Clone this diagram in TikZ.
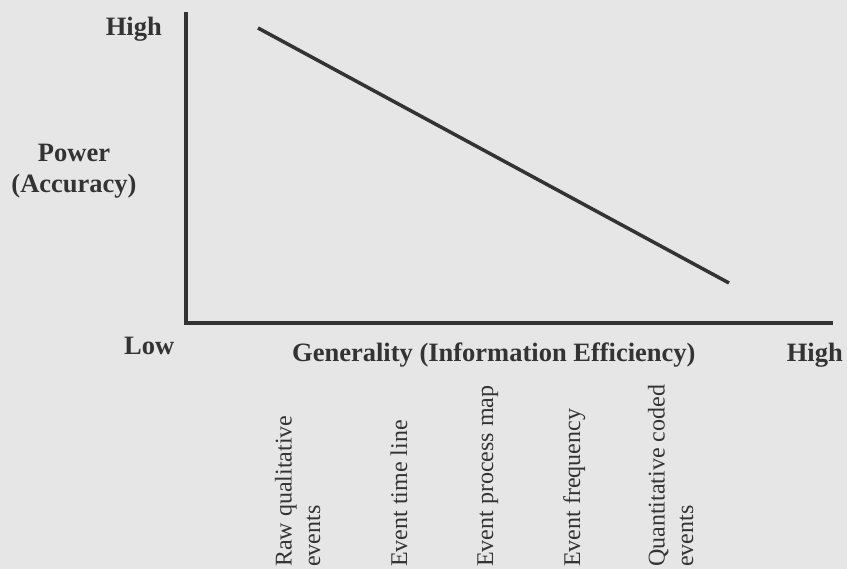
\documentclass[tikz,border=0pt]{standalone}
\usepackage{fontspec}
\setmainfont{Liberation Serif}
\definecolor{bgc}{HTML}{E6E6E6}
\definecolor{ink}{HTML}{333333}
\tikzset{
  axisline/.style={draw=ink, line width=3.5pt, line cap=butt, line join=miter},
  trendline/.style={draw=ink, line width=3.5pt, line cap=butt},
  boldlabel/.style={inner sep=0pt, text=ink, font=\fontsize{26.5}{31}\selectfont\bfseries},
  catlabel/.style={inner sep=0pt, text=ink, rotate=90, anchor=base west, align=left, font=\fontsize{24}{28.5}\selectfont}
}
\begin{document}
\begin{tikzpicture}[x=1pt,y=-1pt]
\fill[bgc] (0,0) rectangle (847,569);
\useasboundingbox (0,0) rectangle (847,569);
% axes
\coordinate (ytop) at (186,12);
\coordinate (origin) at (186,323);
\coordinate (xend) at (833,323);
\draw[axisline] (ytop) -- (origin) -- (xend);
% trend
\coordinate (tstart) at (258,28);
\coordinate (tend) at (729,283);
\draw[trendline] (tstart) -- (tend);
% axis labels
\node[boldlabel, anchor=base east] (yhigh) at (162,36) {High};
\node[boldlabel, anchor=base, align=center] (ylab) at (74,193) {Power\\(Accuracy)};
\node[boldlabel, anchor=base west] (low) at (124,355) {Low};
\node[boldlabel, anchor=base west] (xlab) at (292,362) {Generality (Information Efficiency)};
\node[boldlabel, anchor=base east] (xhigh) at (843,362) {High};
% categories
\node[catlabel] (c1) at (320,567) {Raw qualitative\\events};
\node[catlabel] (c2) at (407,567) {Event time line};
\node[catlabel] (c3) at (493,567) {Event process map};
\node[catlabel] (c4) at (580,567) {Event frequency};
\node[catlabel] (c5) at (693,567) {Quantitative coded\\events};
\end{tikzpicture}
\end{document}
